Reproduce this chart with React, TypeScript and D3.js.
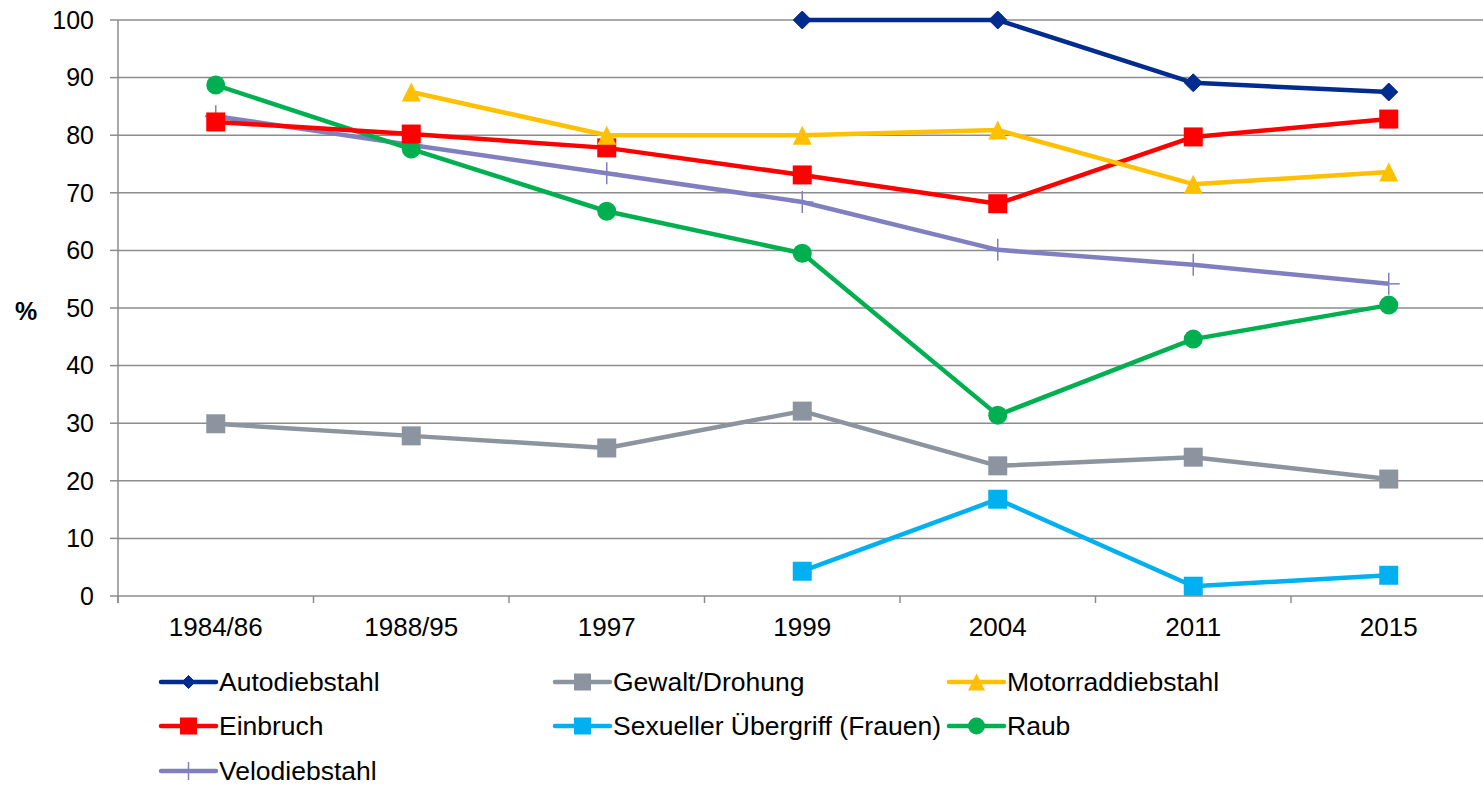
import React from "react";
import * as d3 from "d3";

const categories = ["1984/86", "1988/95", "1997", "1999", "2004", "2011", "2015"];
const yTicks = [0, 10, 20, 30, 40, 50, 60, 70, 80, 90, 100];

const autodiebstahl = [null, null, null, 100, 100, 89.1, 87.5];
const gewaltDrohung = [29.9, 27.8, 25.7, 32.1, 22.6, 24.1, 20.3];
const motorraddiebstahl = [null, 87.5, 80.0, 80.0, 80.9, 71.5, 73.6];
const einbruch = [82.3, 80.2, 77.8, 73.1, 68.1, 79.7, 82.8];
const sexuellerUebergriff = [null, null, null, 4.3, 16.8, 1.7, 3.6];
const raub = [88.7, 77.6, 66.8, 59.5, 31.4, 44.6, 50.5];
const velodiebstahl = [83.3, 78.3, 73.4, 68.4, 60.1, 57.5, 54.2];

type Marker = "diamond" | "square" | "triangle" | "circle" | "plus";
interface Series { name: string; values: (number | null)[]; color: string; marker: Marker }

const seriesList: Series[] = [
  { name: "Autodiebstahl", values: autodiebstahl, color: "#002B8F", marker: "diamond" },
  { name: "Gewalt/Drohung", values: gewaltDrohung, color: "#8C959F", marker: "square" },
  { name: "Motorraddiebstahl", values: motorraddiebstahl, color: "#FFC000", marker: "triangle" },
  { name: "Einbruch", values: einbruch, color: "#FF0000", marker: "square" },
  { name: "Sexueller Übergriff (Frauen)", values: sexuellerUebergriff, color: "#00B0F0", marker: "square" },
  { name: "Raub", values: raub, color: "#00B050", marker: "circle" },
  { name: "Velodiebstahl", values: velodiebstahl, color: "#8080C0", marker: "plus" },
];

// draw order (back to front) roughly as in reference
const drawOrder = [1, 4, 6, 5, 3, 2, 0];

const W = 1483, H = 788;
const plotLeft = 118, plotTop = 20, plotBottom = 596;
const bandW = 195.5;
const plotRight = plotLeft + bandW * categories.length;
const font = "Arial, 'Liberation Sans', sans-serif";

function MarkerShape({ type, x, y, color, size }: { type: Marker; x: number; y: number; color: string; size: number }) {
  const h = size / 2;
  if (type === "diamond") {
    return <path d={`M${x},${y - h}L${x + h},${y}L${x},${y + h}L${x - h},${y}Z`} fill={color} stroke={color} strokeWidth={1} strokeLinejoin="round" />;
  }
  if (type === "square") {
    return <rect x={x - h} y={y - h} width={size} height={size} fill={color} />;
  }
  if (type === "triangle") {
    return <path d={`M${x},${y - h}L${x + h},${y + h}L${x - h},${y + h}Z`} fill={color} />;
  }
  if (type === "circle") {
    return <circle cx={x} cy={y} r={h} fill={color} />;
  }
  return (
    <g stroke={color} strokeWidth={1.5}>
      <line x1={x - h} x2={x + h} y1={y} y2={y} />
      <line x1={x} x2={x} y1={y - h} y2={y + h} />
    </g>
  );
}

export default function App() {
  const x = d3.scaleBand<string>().domain(categories).range([plotLeft, plotRight]);
  const y = d3.scaleLinear().domain([0, 100]).range([plotBottom, plotTop]);
  const cx = (c: string) => (x(c) as number) + x.bandwidth() / 2;

  const line = d3
    .line<{ c: string; v: number | null }>()
    .defined((d) => d.v !== null)
    .x((d) => cx(d.c))
    .y((d) => y(d.v as number));

  const boundaries = d3.range(categories.length + 1).map((i) => plotLeft + i * x.bandwidth());

  const legendCols = [161, 555, 949];
  const legendRows = [682, 726, 771];

  return (
    <svg width={W} height={H} style={{ position: "absolute", left: 0, top: 0, background: "#fff" }} fontFamily={font}>
      {/* gridlines */}
      {yTicks.map((t) => (
        <line key={t} x1={plotLeft} x2={plotRight} y1={y(t)} y2={y(t)} stroke="#8C8C8C" strokeWidth={1.5} />
      ))}
      {/* y axis */}
      <line x1={plotLeft} x2={plotLeft} y1={plotTop} y2={plotBottom + 7} stroke="#8C8C8C" strokeWidth={1.5} />
      {yTicks.map((t) => (
        <line key={"yt" + t} x1={plotLeft - 8} x2={plotLeft} y1={y(t)} y2={y(t)} stroke="#8C8C8C" strokeWidth={1.5} />
      ))}
      {yTicks.map((t) => (
        <text key={"yl" + t} x={94} y={y(t)} dy="0.35em" textAnchor="end" fontSize={25} fill="#000">
          {t}
        </text>
      ))}
      <text x={26} y={311} dy="0.35em" textAnchor="middle" fontSize={25} fontWeight="bold" fill="#000">%</text>
      {/* x axis */}
      {boundaries.map((b, i) => (
        <line key={"xt" + i} x1={b} x2={b} y1={plotBottom} y2={plotBottom + 7} stroke="#8C8C8C" strokeWidth={1.5} />
      ))}
      {categories.map((c) => (
        <text key={"xl" + c} x={cx(c)} y={627} dy="0.35em" textAnchor="middle" fontSize={26} fill="#000">
          {c}
        </text>
      ))}
      {/* series */}
      {drawOrder.map((i) => {
        const s = seriesList[i];
        const data = categories.map((c, j) => ({ c, v: s.values[j] }));
        return (
          <g key={s.name}>
            <path d={line(data) || ""} fill="none" stroke={s.color} strokeWidth={4.5} strokeLinejoin="round" />
            {data.filter((d) => d.v !== null).map((d) => (
              <MarkerShape key={d.c} type={s.marker} x={cx(d.c)} y={y(d.v as number)} color={s.color} size={s.marker === "diamond" ? 18 : s.marker === "plus" ? 22 : 19} />
            ))}
          </g>
        );
      })}
      {/* legend */}
      {seriesList.map((s, i) => {
        const col = i % 3;
        const row = Math.floor(i / 3);
        const lx = legendCols[col];
        const ly = legendRows[row];
        const msize = s.marker === "diamond" ? 13 : s.marker === "plus" ? 18 : 17;
        return (
          <g key={"lg" + s.name}>
            <line x1={lx} x2={lx + 55} y1={ly} y2={ly} stroke={s.color} strokeWidth={4.5} strokeLinecap="round" />
            <MarkerShape type={s.marker} x={lx + 27.5} y={ly} color={s.color} size={msize} />
            <text x={lx + 58} y={ly} dy="0.35em" fontSize={26.5} fill="#000">{s.name}</text>
          </g>
        );
      })}
    </svg>
  );
}
